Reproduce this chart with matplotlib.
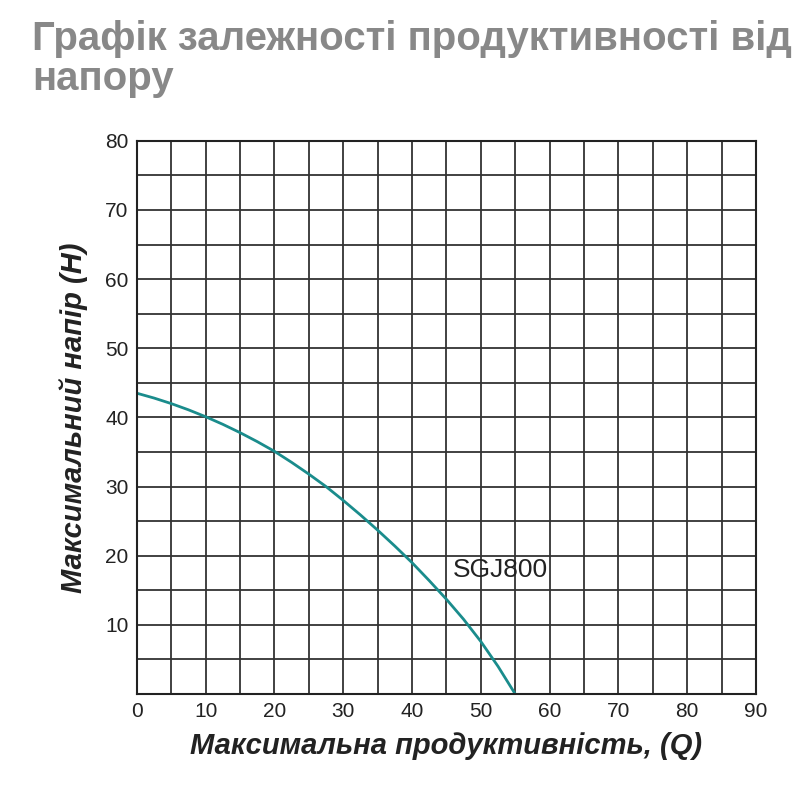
import matplotlib

matplotlib.use("Agg")
import matplotlib.pyplot as plt
import numpy as np

plt.rcParams["font.family"] = ["Liberation Sans", "DejaVu Sans"]

# curve of SGJ800
flow_q = [0, 2.5, 5, 7.5, 10, 12.5, 15, 17.5, 20, 22.5, 25, 27.5, 30, 32.5, 35,
          37.5, 40, 42.5, 45, 47.5, 50, 52.5, 55]
head_h = [43.5, 42.8, 42.0, 41.1, 40.1, 39.0, 37.8, 36.5, 35.1, 33.5, 31.8, 30.0,
          28.0, 25.9, 23.7, 21.4, 19.0, 16.4, 13.7, 10.8, 7.6, 4.0, 0.0]

fig = plt.figure(figsize=(8, 8), dpi=100)
ax = fig.add_axes([0.171, 0.1325, 0.774, 0.6915])

ax.plot(flow_q, head_h, color="#1a8c8c", linewidth=2)
ax.set_xlim(0, 90)
ax.set_ylim(0, 80)
ax.set_xticks(np.arange(0, 91, 5))
ax.set_yticks(np.arange(0, 81, 5))
ax.set_xticklabels([str(v) if v % 10 == 0 else "" for v in range(0, 91, 5)])
ax.set_yticklabels([str(v) if v % 10 == 0 and v > 0 else "" for v in range(0, 81, 5)])
ax.grid(True, color="#333333", linewidth=1.3)
ax.tick_params(length=0, labelsize=15, colors="#222222", pad=6)
for s in ax.spines.values():
    s.set_color("#222222")
    s.set_linewidth(1.5)

ax.text(46, 18, "SGJ800", fontsize=19, color="#222222", va="center")

ax.set_xlabel("Максимальна продуктивність, (Q)", fontsize=21, fontweight="bold",
              fontstyle="italic", color="#222222", labelpad=8)
ax.set_ylabel("Максимальний напір (H)", fontsize=21, fontweight="bold",
              fontstyle="italic", color="#222222", labelpad=12)

fig.text(0.04, 0.975, "Графік залежності продуктивності від\nнапору", fontsize=29,
         fontweight="bold", color="#888888", va="top", ha="left", linespacing=1.05)

fig.savefig("out.png", dpi=100)
